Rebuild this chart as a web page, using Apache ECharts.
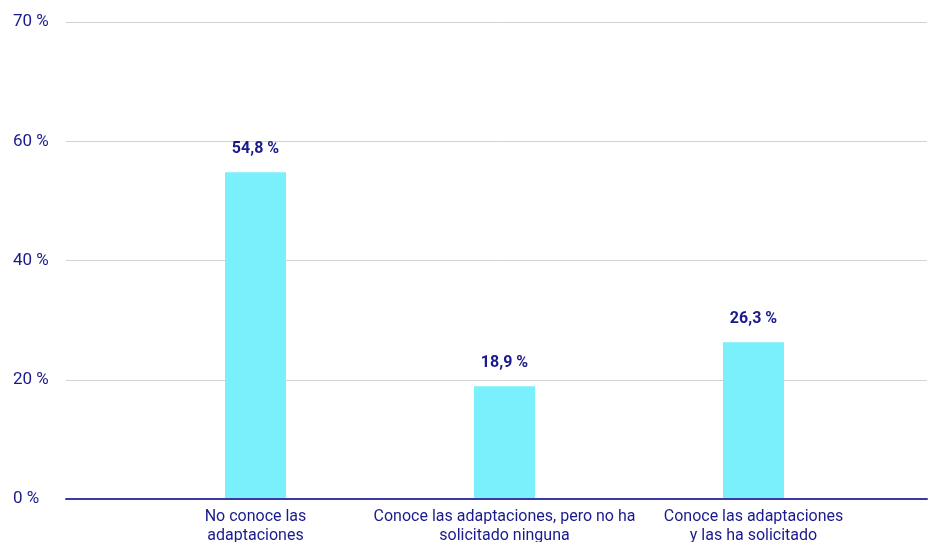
<!DOCTYPE html>
<html>
<head>
<meta charset="utf-8">
<script src="https://cdn.jsdelivr.net/npm/echarts@6/dist/echarts.min.js"></script>
<style>
  html, body { margin: 0; padding: 0; background: #fff; }
  #chart { width: 935px; height: 542px; }
</style>
</head>
<body>
<div id="chart"></div>
<script>
// Survey answers about awareness of adaptations
const categories = [
  'No conoce las\nadaptaciones',
  'Conoce las adaptaciones, pero no ha\nsolicitado ninguna',
  'Conoce las adaptaciones\ny las ha solicitado'
];
const shares = [54.8, 18.9, 26.3];
const yTickLabels = ['0 %', '20 %', '40 %', '60 %', '70 %'];

const navy = '#1a1a8c';
const font = 'Roboto';

const chart = echarts.init(document.getElementById('chart'));
chart.setOption({
  animation: false,
  textStyle: { fontFamily: font },
  grid: [
    // full-width grid: gridlines, value labels and the baseline
    { left: 66, right: 8, top: 22, bottom: 43, outerBoundsMode: 'none', containLabel: false },
    // inner grid holding the bars and category names
    { left: 131, right: 57, top: 22, bottom: 43, outerBoundsMode: 'none', containLabel: false }
  ],
  xAxis: [
    {
      gridIndex: 0, type: 'category', data: categories,
      axisLine: { lineStyle: { color: '#3a3aa3', width: 2 } },
      axisTick: { show: false }, axisLabel: { show: false },
      z: 5
    },
    {
      gridIndex: 1, type: 'category', data: categories,
      axisLine: { show: false }, axisTick: { show: false },
      axisLabel: {
        color: navy, fontSize: 16, fontFamily: font,
        lineHeight: 19, margin: 8, interval: 0
      }
    }
  ],
  yAxis: [
    {
      gridIndex: 0, type: 'value', min: 0, max: 80, interval: 20,
      axisLine: { show: false }, axisTick: { show: false },
      splitLine: { lineStyle: { color: '#d2d2d2', width: 1 } },
      axisLabel: {
        color: navy, fontSize: 17, fontFamily: font,
        align: 'left', margin: 53, padding: [7, 0, 0, 0],
        formatter: (v) => yTickLabels[Math.round(v / 20)]
      }
    },
    {
      gridIndex: 1, type: 'value', min: 0, max: 80, interval: 20,
      show: false
    }
  ],
  series: [{
    type: 'bar',
    xAxisIndex: 1, yAxisIndex: 1,
    data: shares,
    barWidth: 61,
    z: 1,
    itemStyle: { color: '#7af0fd' },
    label: {
      show: true, position: 'top', distance: 15,
      color: navy, fontSize: 16, fontWeight: 'bold', fontFamily: font,
      formatter: (p) => p.value.toFixed(1).replace('.', ',') + ' %'
    }
  }]
});
</script>
</body>
</html>
